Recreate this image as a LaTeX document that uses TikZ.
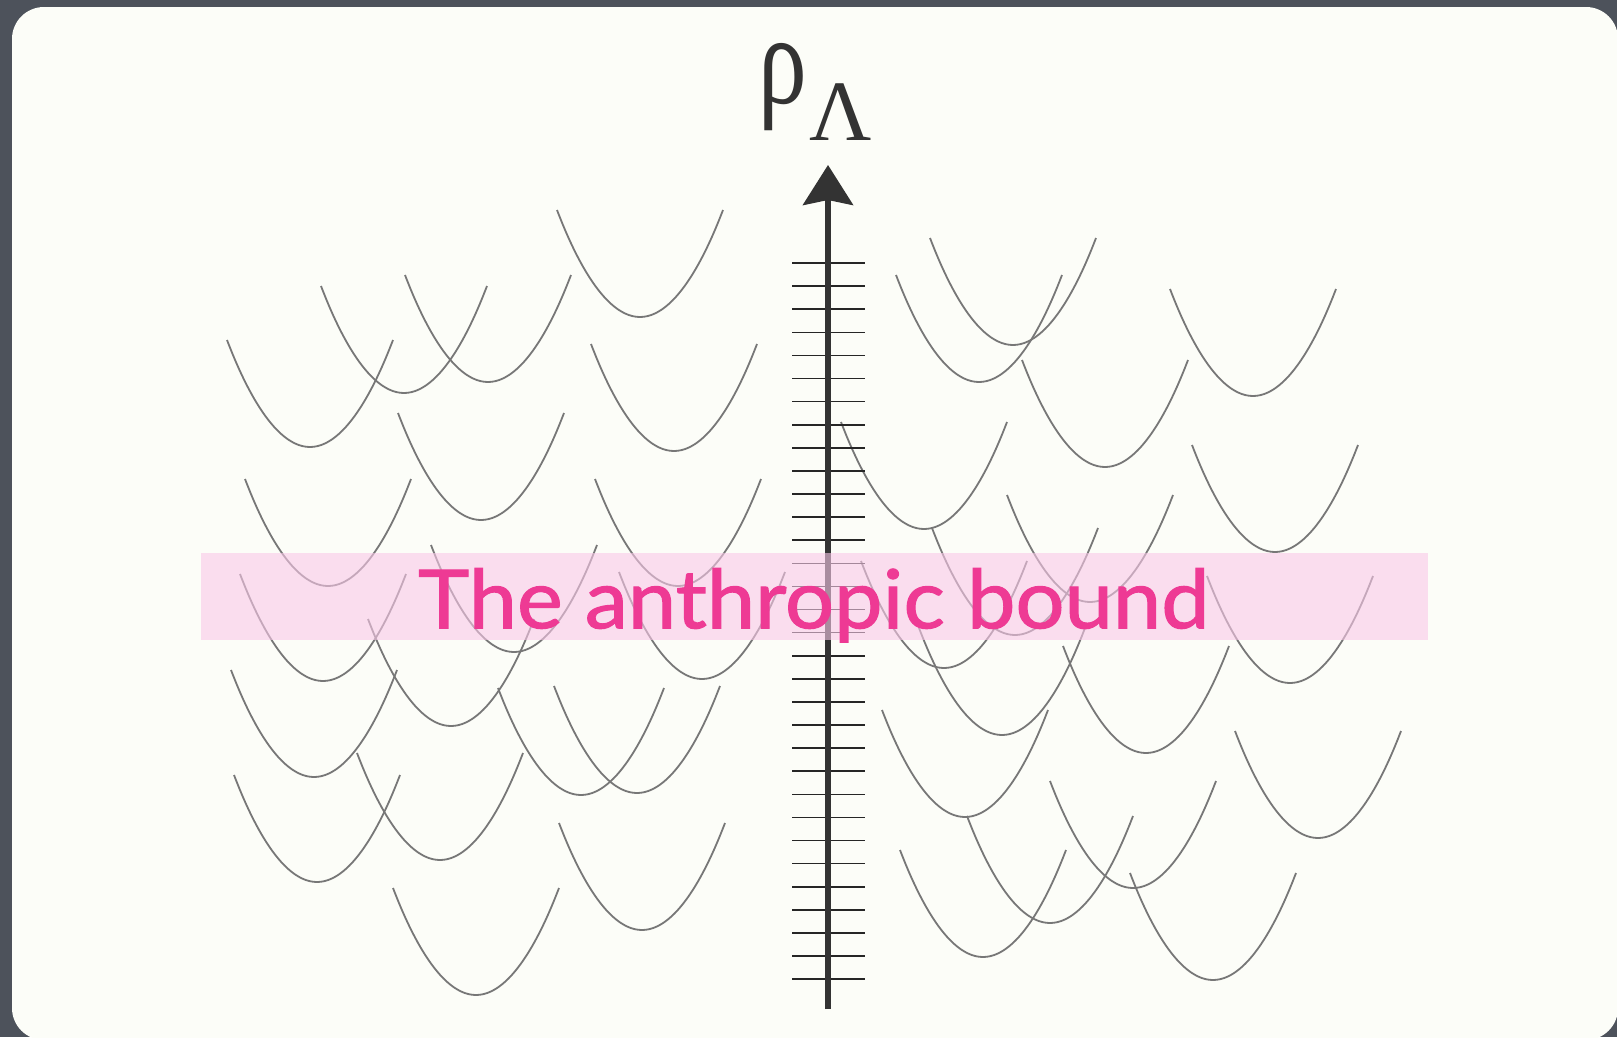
\documentclass[tikz,border=0pt]{standalone}
\usepackage{fontspec}
\usepackage{graphicx}
\usetikzlibrary{arrows.meta}
\newfontfamily\symfont{Liberation Serif}
\newfontfamily\bannerfont[FakeBold=1.3]{Lato}
\definecolor{outerbg}{HTML}{4D525B}
\definecolor{panel}{HTML}{FCFDF8}
\definecolor{curvegray}{HTML}{777777}
\definecolor{axisdark}{HTML}{333333}
\definecolor{bandpink}{HTML}{F9C8E8}
\definecolor{textpink}{HTML}{EE3A94}
\tikzset{
  well/.style={draw=curvegray, line width=1.8pt},
  axisline/.style={draw=axisdark, line width=5.5pt, -{Stealth[length=40pt,width=50pt,inset=5pt]}},
  tickline/.style={draw=black!85, line width=1.6pt},
  band/.style={fill=bandpink, opacity=0.6},
  greeklabel/.style={anchor=base west, inner sep=0pt, text=axisdark},
}
\begin{document}
\begin{tikzpicture}[x=1pt,y=-1pt]
\useasboundingbox (0,0) rectangle (1617,1037);
\fill[outerbg] (0,0) rectangle (1617,1037);
\fill[panel, rounded corners=32pt] (12,7) rectangle (1618,1040);
% potential wells
\foreach \vx/\vy in {640/317, 404/393, 488/382, 310/447, 674/451, 481/520, 328/586, 678/586,
  323/681, 514/652, 702/679, 314/777, 451/726, 317/882, 440/860, 581/795, 637/793, 476/995, 642/930,
  1013/345, 979/382, 1253/396, 1105/467, 924/529, 1275/552, 1090/602, 1015/635, 944/668,
  1290/683, 1002/735, 1146/753, 965/817, 1318/838, 1133/888, 1050/923, 983/957, 1213/980}
  \draw[well] (\vx-83,\vy-107) parabola bend (\vx,\vy) (\vx+83,\vy-107);
% axis with ticks
\foreach \i in {0,...,31}
  \draw[tickline] (792,263+\i*23.1) -- (865,263+\i*23.1);
\coordinate (axisfoot) at (828,1009);
\coordinate (axistip) at (828,165);
\draw[axisline] (axisfoot) -- (axistip);
% label
\node[greeklabel] (rho) at (758,103) {\scalebox{0.8}[1.05]{\symfont\fontsize{122}{122}\selectfont ρ}};
\node[greeklabel] (lam) at (809,140) {\symfont\fontsize{86}{86}\selectfont Λ};
% anthropic band
\fill[band] (201,553) rectangle (1428,640);
\node[anchor=north west, inner sep=0pt, text=textpink] (bound) at (418,568)
  {\resizebox*{791pt}{74pt}{\bannerfont The anthropic bound}};
\end{tikzpicture}
\end{document}
